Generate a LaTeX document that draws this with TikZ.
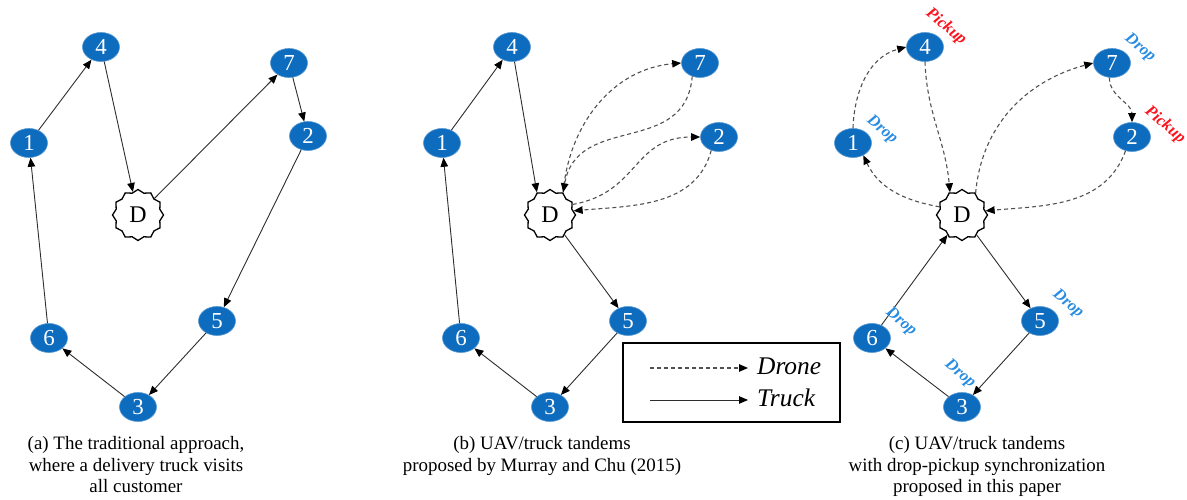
\documentclass[tikz,border=0pt]{standalone}
\usepackage{fontspec}
\setmainfont{Liberation Serif}
\usetikzlibrary{shapes.geometric,arrows.meta}
\definecolor{nodeblue}{RGB}{14,108,190}
\definecolor{dropblue}{RGB}{40,140,225}
\definecolor{pickred}{RGB}{250,20,30}
\definecolor{edgegray}{RGB}{45,45,45}
\definecolor{dashgray}{RGB}{80,80,80}
\begin{document}
\begin{tikzpicture}[x=1bp,y=1bp,
 cust/.style={ellipse, fill=nodeblue, draw=nodeblue!70!white, line width=0.6bp, minimum width=37bp, minimum height=29bp, inner sep=0pt, text=white, font=\fontsize{23}{23}\selectfont},
 depot/.style={star, star points=12, star point ratio=1.13, draw=black, line width=1.3bp, fill=white, minimum size=51bp, inner sep=0pt, font=\fontsize{24}{24}\selectfont},
 truck/.style={draw=edgegray, line width=0.9bp, -{Triangle[length=9bp,width=7.5bp,color=black]}},
 drone/.style={draw=dashgray, line width=1.1bp, dash pattern=on 4bp off 3bp, -{Triangle[length=9bp,width=7.5bp,color=black]}},
 caption/.style={anchor=base, font=\fontsize{19}{21}\selectfont, inner sep=0pt},
 droplbl/.style={text=dropblue, font=\fontsize{16.5}{16.5}\selectfont\bfseries\itshape, rotate=-40, inner sep=0pt},
 picklbl/.style={text=pickred, font=\fontsize{16.5}{16.5}\selectfont\bfseries\itshape, rotate=-40, inner sep=0pt},
 legtext/.style={anchor=base west, font=\fontsize{25.5}{25.5}\selectfont\itshape, inner sep=0pt}
]
\useasboundingbox (0,0) rectangle (1187,500);

% ---------- panel (a)
\node[cust] (a4) at (101,453) {4};
\node[cust] (a7) at (289,437) {7};
\node[cust] (a1) at (29,357) {1};
\node[cust] (a2) at (308,364) {2};
\node[depot] (aD) at (138,285) {D};
\node[cust] (a5) at (217,179) {5};
\node[cust] (a6) at (49,162) {6};
\node[cust] (a3) at (138,93) {3};
\draw[truck] (a1) -- (a4);
\draw[truck] (a4) -- (aD);
\draw[truck] (aD) -- (a7);
\draw[truck] (a7) -- (a2);
\draw[truck] (a2) -- (a5);
\draw[truck] (a5) -- (a3);
\draw[truck] (a3) -- (a6);
\draw[truck] (a6) -- (a1);

% ---------- panel (b)
\node[cust] (b4) at (512,453) {4};
\node[cust] (b7) at (700,437) {7};
\node[cust] (b2) at (719,363) {2};
\node[cust] (b1) at (442,357) {1};
\node[depot] (bD) at (550,285) {D};
\node[cust] (b5) at (628,179) {5};
\node[cust] (b6) at (461,162) {6};
\node[cust] (b3) at (550,93) {3};
\draw[truck] (b1) -- (b4);
\draw[truck] (b4) -- (bD.120);
\draw[truck] (bD) -- (b5);
\draw[truck] (b5) -- (b3);
\draw[truck] (b3) -- (b6);
\draw[truck] (b6) -- (b1);
\draw[drone] (bD.60) to[out=85,in=185] (b7.west);
\draw[drone] (b7.-120) to[out=-95,in=80,looseness=1.2] (bD.60);
\draw[drone] (bD.25) to[out=10,in=180,looseness=1.2] (b2.west);
\draw[drone] (b2.-120) to[out=-105,in=5] (bD.10);

% ---------- legend
\node[draw=black, line width=1.5bp, minimum width=217bp, minimum height=79bp, inner sep=0pt] (legend) at (731.5,117.5) {};
\coordinate (ld1) at (650,132);
\coordinate (ld2) at (748,132);
\coordinate (lt1) at (650,100);
\coordinate (lt2) at (748,100);
\draw[drone] (ld1) -- (ld2);
\draw[truck] (lt1) -- (lt2);
\node[legtext] (ldt) at (757,125) {Drone};
\node[legtext] (ltt) at (757,93) {Truck};

% ---------- panel (c)
\node[cust] (c4) at (925,453) {4};
\node[cust] (c7) at (1112,437) {7};
\node[cust] (c1) at (853,357) {1};
\node[cust] (c2) at (1132,363) {2};
\node[depot] (cD) at (962,285) {D};
\node[cust] (c5) at (1040,179) {5};
\node[cust] (c6) at (872,162) {6};
\node[cust] (c3) at (962,93) {3};
\draw[truck] (cD) -- (c5);
\draw[truck] (c5) -- (c3);
\draw[truck] (c3) -- (c6);
\draw[truck] (c6) -- (cD);
\draw[drone] (cD.160) to[out=170,in=-65] (c1.-50);
\draw[drone] (c1.north) to[out=88,in=195] (c4.west);
\draw[drone] (c4.south) to[out=-88,in=95] (cD.118);
\draw[drone] (cD.58) to[out=85,in=195] (c7.west);
\draw[drone] (c7.-100) to[out=-90,in=90] (c2.north);
\draw[drone] (c2.-115) to[out=-110,in=5] (cD.10);

\node[picklbl] (p4) at (946,473) {Pickup};
\node[droplbl] (d1) at (882,370) {Drop};
\node[droplbl] (d7) at (1140,452) {Drop};
\node[picklbl] (p2) at (1165,375) {Pickup};
\node[droplbl] (d5) at (1068,196) {Drop};
\node[droplbl] (d6) at (901,178) {Drop};
\node[droplbl] (d3) at (960,126) {Drop};

% ---------- captions
\node[caption] (ca1) at (136,50) {(a) The traditional approach,};
\node[caption] (ca2) at (136,28) {where a delivery truck visits};
\node[caption] (ca3) at (136,7) {all customer};
\node[caption] (cb1) at (542,50) {(b) UAV/truck tandems};
\node[caption] (cb2) at (542,28) {proposed by Murray and Chu (2015)};
\node[caption] (cc1) at (977,50) {(c) UAV/truck tandems};
\node[caption] (cc2) at (977,28) {with drop-pickup synchronization};
\node[caption] (cc3) at (977,7) {proposed in this paper};
\end{tikzpicture}
\end{document}
